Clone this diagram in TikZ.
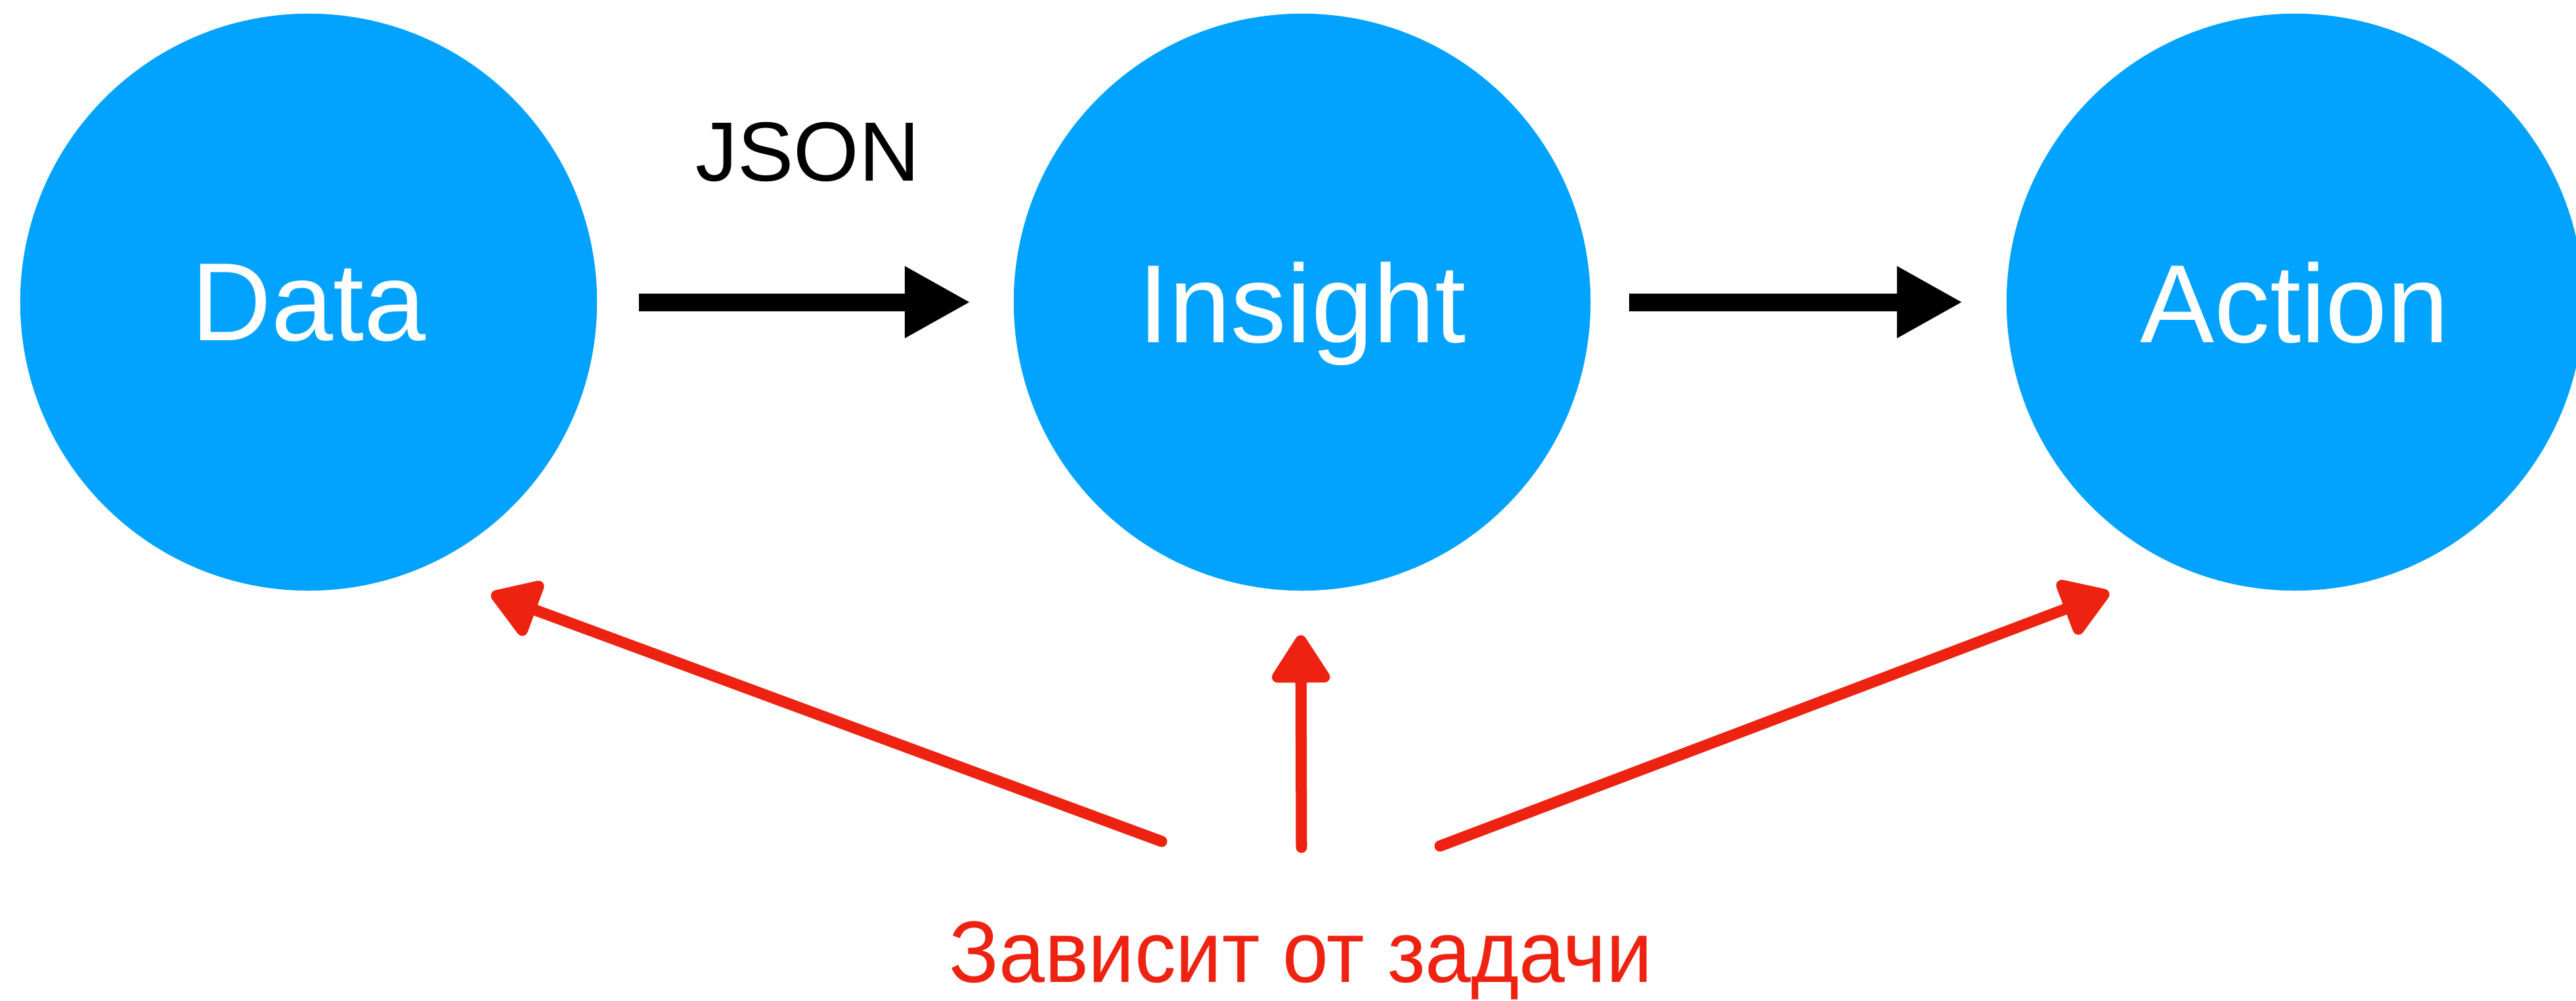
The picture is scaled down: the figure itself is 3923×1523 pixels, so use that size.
\documentclass[tikz,border=0pt]{standalone}
\usepackage{fontspec}
\setmainfont{Liberation Sans}
\usetikzlibrary{arrows.meta}
\definecolor{nodeblue}{RGB}{2,163,254}
\definecolor{markred}{RGB}{238,34,17}
\begin{document}
\begin{tikzpicture}[x=0.01cm,y=-0.01cm,
  stage/.style={circle,fill=nodeblue,minimum size=8.78cm,inner sep=0pt,text=white,
    text depth=0pt,font=\fontsize{48.1}{58}\selectfont},
  flow/.style={draw=black,line width=0.27cm,-{Triangle[length=1cm,width=1.02cm]}},
  hint/.style={draw=markred,line width=0.17cm,line cap=round,-{Triangle[length=0.8cm,width=0.98cm,round]}},
  flowlabel/.style={font=\fontsize{36.4}{44}\selectfont,text=black,inner sep=0pt},
  notelabel/.style={font=\fontsize{37.8}{45}\selectfont,text=markred,inner sep=0pt}]
\clip (0,0) rectangle (3923,1523);
\fill[white] (0,0) rectangle (3923,1523);

\node[stage] (data) at (470,460) {Data};
\node[stage] (insight) at (1983,460) {Insight};
\node[stage] (action) at (3495,460) {Action};

\draw[flow,shorten <=0.63cm,shorten >=0.65cm] (data) -- (insight);
\draw[flow,shorten <=0.58cm,shorten >=0.66cm] (insight) -- (action);

\node[flowlabel] (json) at (1230,231) {JSON};

\node[notelabel,anchor=base] (note) at (1981,1495) {\scalebox{0.945}[1]{Зависит от задачи}};

\coordinate (tl) at (1769,1281);
\coordinate (hl) at (748,904);
\coordinate (tc) at (1982,1290);
\coordinate (hc) at (1981,967);
\coordinate (tr) at (2193,1288);
\coordinate (hr) at (3212,902);

\draw[hint] (tl) -- (hl);
\draw[hint] (tc) -- (hc);
\draw[hint] (tr) -- (hr);
\end{tikzpicture}
\end{document}
